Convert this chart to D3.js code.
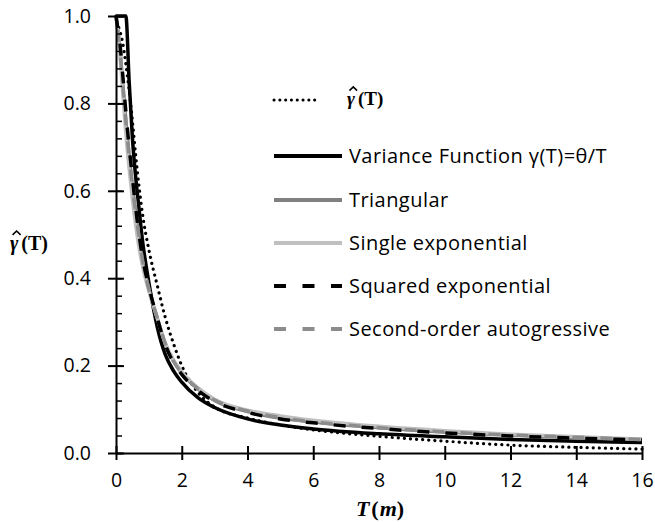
<!DOCTYPE html>
<html>
<head>
<meta charset="utf-8">
<title>Variance function fit</title>
<script src="https://d3js.org/d3.v7.min.js"></script>
<style>
  body { margin: 0; background: #fff; }
  svg { display: block; }
  .tick text { font-family: "Open Sans", sans-serif; font-size: 19.5px; fill: #000; }
  .legend text.lbl { font-family: "Open Sans", sans-serif; font-size: 20px; letter-spacing: 0.45px; fill: #000; }
  .serif { font-family: "Liberation Serif", "DejaVu Serif", serif; font-weight: bold; fill: #000; }
</style>
</head>
<body>
<div id="chart"></div>
<script>
const lagT = [0, 0.05, 0.1, 0.2, 0.3, 0.4, 0.5, 0.6, 0.7, 0.8, 1.0, 1.25, 1.5, 1.75, 2, 2.5, 3, 4, 5, 6, 8, 10, 12, 14, 16];

// empirical variance function, dotted
const empirical   = [1.0, 0.98, 0.97, 0.94, 0.89, 0.83, 0.76, 0.68, 0.61, 0.55, 0.465, 0.385, 0.31, 0.25, 0.20, 0.138, 0.105, 0.080, 0.064, 0.053, 0.038, 0.027, 0.018, 0.013, 0.009];
const varianceFn  = [1.0, 1.0, 1.0, 1.0, 1.0, 0.85, 0.72, 0.63, 0.56, 0.49, 0.39, 0.29, 0.225, 0.188, 0.162, 0.126, 0.104, 0.078, 0.064, 0.055, 0.044, 0.037, 0.031, 0.027, 0.024];
const triangular  = [1.0, 0.97, 0.94, 0.85, 0.76, 0.68, 0.61, 0.55, 0.49, 0.44, 0.375, 0.31, 0.25, 0.21, 0.183, 0.146, 0.120, 0.095, 0.080, 0.071, 0.058, 0.048, 0.041, 0.035, 0.031];
const singleExp   = [1.0, 0.965, 0.93, 0.83, 0.73, 0.65, 0.58, 0.52, 0.47, 0.43, 0.37, 0.31, 0.252, 0.213, 0.186, 0.149, 0.123, 0.098, 0.085, 0.075, 0.061, 0.051, 0.043, 0.037, 0.032];
const squaredExp  = [1.0, 0.975, 0.95, 0.87, 0.78, 0.70, 0.63, 0.56, 0.50, 0.45, 0.38, 0.31, 0.248, 0.207, 0.180, 0.143, 0.118, 0.093, 0.078, 0.069, 0.056, 0.046, 0.039, 0.034, 0.030];
const secondOrder = [1.0, 0.97, 0.935, 0.85, 0.76, 0.68, 0.61, 0.55, 0.495, 0.445, 0.375, 0.31, 0.25, 0.21, 0.183, 0.146, 0.121, 0.096, 0.081, 0.071, 0.058, 0.048, 0.041, 0.036, 0.031];

const xTicks = [0, 2, 4, 6, 8, 10, 12, 14, 16];
const yTicks = [0, 0.2, 0.4, 0.6, 0.8, 1.0];
const yMinorTicks = d3.range(0, 1.0001, 0.04);

const series = [
  { name: "hat", values: empirical, color: "#000", width: 3.2, dash: "0.1,6", cap: "round" },
  { name: "Variance Function γ(T)=θ/T", values: varianceFn, color: "#000", width: 3.5, dash: null, cap: "butt" },
  { name: "Triangular", values: triangular, color: "#808080", width: 3.5, dash: null, cap: "butt" },
  { name: "Single exponential", values: singleExp, color: "#c0c0c0", width: 3.5, dash: null, cap: "butt" },
  { name: "Squared exponential", values: squaredExp, color: "#000", width: 3.5, dash: "12,16", cap: "butt" },
  { name: "Second-order autogressive", values: secondOrder, color: "#8c8c8c", width: 3.5, dash: "12,16", cap: "butt", offset: 14 }
];

const width = 655, height = 522;
const svg = d3.select("#chart").append("svg")
  .attr("width", width).attr("height", height);
svg.append("rect").attr("width", width).attr("height", height).attr("fill", "#fff");

const x = d3.scaleLinear().domain([0, 16]).range([116, 642]);
const y = d3.scaleLinear().domain([0, 1]).range([453, 16]);

// curves
const line = d3.line()
  .x((d, i) => x(lagT[i]))
  .y(d => y(d))
  .curve(d3.curveMonotoneX);

const curves = svg.append("g");
series.forEach(s => {
  curves.append("path")
    .attr("d", line(s.values))
    .attr("fill", "none")
    .attr("stroke", s.color)
    .attr("stroke-width", s.width)
    .attr("stroke-linecap", s.cap)
    .attr("stroke-linejoin", "round")
    .attr("stroke-dasharray", s.dash)
    .attr("stroke-dashoffset", s.offset || 0);
});

// y axis: major ticks cross the line, minor ticks inside
const yMinor = svg.append("g")
  .attr("transform", `translate(${x(0)},0)`)
  .call(d3.axisRight(y).tickValues(yMinorTicks).tickSize(6).tickFormat(""));
yMinor.select(".domain").remove();
yMinor.selectAll("line").attr("stroke", "#000").attr("stroke-width", 1.5);

const yAxis = svg.append("g")
  .attr("transform", `translate(${x(0)},0)`)
  .call(d3.axisLeft(y).tickValues(yTicks).tickSizeOuter(0).tickPadding(19).tickFormat(d3.format(".1f")));
yAxis.select(".domain").attr("stroke", "#000").attr("stroke-width", 2);
yAxis.selectAll(".tick line").attr("x1", -8).attr("x2", 8).attr("stroke", "#000").attr("stroke-width", 2);

// x axis
const xAxis = svg.append("g")
  .attr("transform", `translate(0,${y(0)})`)
  .call(d3.axisBottom(x).tickValues(xTicks).tickSizeOuter(0).tickPadding(14).tickFormat(d3.format("d")));
xAxis.select(".domain").attr("stroke", "#000").attr("stroke-width", 2);
xAxis.selectAll(".tick line").attr("y1", -7).attr("y2", 7).attr("stroke", "#000").attr("stroke-width", 2);

// axis titles
const xTitle = svg.append("text").attr("class", "serif")
  .attr("x", 380).attr("y", 516).attr("text-anchor", "middle").attr("font-size", 22);
xTitle.append("tspan").attr("font-style", "italic").text("T");
xTitle.append("tspan").attr("dx", 2).text("(");
xTitle.append("tspan").attr("font-style", "italic").attr("dx", 1).text("m");
xTitle.append("tspan").text(")");

// gamma with a hat drawn as a small chevron above it
function gammaHat(g, xPos, yPos, size) {
  const t = g.append("text").attr("class", "serif")
    .attr("x", xPos).attr("y", yPos).attr("font-size", size);
  t.append("tspan").attr("font-style", "italic").text("γ");
  t.append("tspan").attr("dx", 3).text("(T)");
  const cx = xPos + size * 0.33, apex = yPos - size * 0.95, base = yPos - size * 0.76;
  g.append("path")
    .attr("d", `M${cx - size * 0.2},${base}L${cx},${apex}L${cx + size * 0.2},${base}`)
    .attr("fill", "none").attr("stroke", "#000").attr("stroke-width", 1.6);
}
gammaHat(svg, 10, 250, 20);

// legend
const legend = svg.append("g").attr("class", "legend");
const rowY = [100, 156, 200, 243, 286, 329];
series.forEach((s, i) => {
  const x2 = i === 0 ? 318 : 342;
  legend.append("line")
    .attr("x1", 274).attr("x2", x2)
    .attr("y1", rowY[i]).attr("y2", rowY[i])
    .attr("stroke", s.color)
    .attr("stroke-width", i === 0 ? 3 : 4)
    .attr("stroke-linecap", s.cap)
    .attr("stroke-dasharray", i === 0 ? "0.1,5.7" : (s.dash ? "12,16.5" : null));
  if (i === 0) {
    gammaHat(legend, 347, rowY[i] + 5, 19);
  } else {
    legend.append("text").attr("class", "lbl")
      .attr("x", 349).attr("y", rowY[i]).attr("dy", "0.36em")
      .text(s.name);
  }
});
</script>
</body>
</html>
